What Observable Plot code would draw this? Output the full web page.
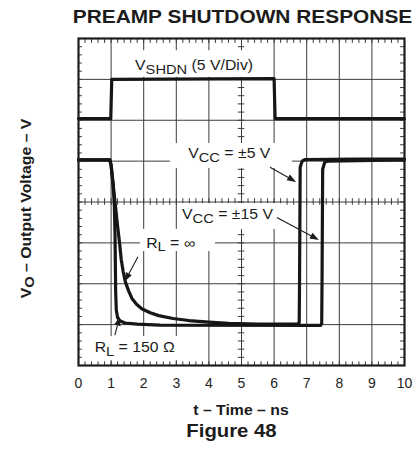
<!DOCTYPE html>
<html><head><meta charset="utf-8">
<script src="https://cdn.jsdelivr.net/npm/d3@7"></script>
<script src="https://cdn.jsdelivr.net/npm/@observablehq/plot@0.6"></script>
<style>body{margin:0;background:#fff} svg{display:block}</style>
</head><body><div id="chart"></div>
<script>
// ---- data (time in ns, vertical position in scope divisions) ----
const xTicks = [0, 1, 2, 3, 4, 5, 6, 7, 8, 9, 10];
const yDivs = [0, 1, 2, 3, 4, 5, 6, 7, 8];

const shdnT = [0, 0.99, 1.02, 6.0, 6.03, 10];
const shdnV = [6.04, 6.04, 7.0, 7.02, 6.04, 6.04];

// R_L = ∞ falling edge, VCC = ±5 V rising edge
const infT = [0, 0.96, 1.0, 1.06, 1.12, 1.2, 1.26, 1.31, 1.37, 1.44, 1.54, 1.64, 1.78, 1.94, 2.2, 2.46, 2.9, 3.38, 4.0, 4.6, 5.5, 6.72, 6.77, 6.78, 6.8, 6.86, 6.95, 8.5, 10];
const infV = [5.03, 5.03, 4.9, 4.45, 4.0, 3.4, 3.0, 2.6, 2.3, 2.04, 1.82, 1.64, 1.5, 1.39, 1.29, 1.22, 1.15, 1.1, 1.06, 1.03, 1.01, 1.01, 1.05, 2.0, 4.85, 5.0, 5.04, 5.05, 5.05];

// R_L = 150 Ω falling edge, VCC = ±15 V rising edge
const r150T = [0, 0.96, 1.0, 1.06, 1.1, 1.12, 1.13, 1.14, 1.16, 1.2, 1.28, 1.43, 1.8, 2.5, 7.42, 7.46, 7.47, 7.49, 7.55, 7.65, 10];
const r150V = [5.03, 5.03, 4.9, 4.45, 3.9, 3.2, 2.5, 1.8, 1.35, 1.17, 1.09, 1.04, 1.01, 0.99, 0.98, 1.02, 2.0, 4.8, 4.97, 5.0, 5.03];

const shdn = shdnT.map((t, i) => ({t, v: shdnV[i]}));
const rInf = infT.map((t, i) => ({t, v: infV[i]}));
const r150 = r150T.map((t, i) => ({t, v: r150V[i]}));

// white label backgrounds (data units)
const boxes = [
  {x1: 1.6, x2: 5.67, y1: 7.05, y2: 7.7},
  {x1: 2.82, x2: 6.56, y1: 4.82, y2: 5.43},
  {x1: 3.04, x2: 6.23, y1: 3.33, y2: 3.96},
  {x1: 1.9, x2: 4.2, y1: 2.79, y2: 3.33},
  {x1: 0.37, x2: 3.19, y1: 0.12, y2: 0.71}
];

const minorX = d3.range(0, 10.001, 0.2);
const minorY = d3.range(0, 8.001, 0.2);
const gridColor = "#3c3c3c";
const ink = "#161616";

const plot = Plot.plot({
  width: 416, height: 451,
  marginLeft: 78, marginRight: 12, marginTop: 38, marginBottom: 86,
  x: {domain: [0, 10]},
  y: {domain: [0, 8], axis: null},
  style: {fontFamily: "'Liberation Sans', Arial, sans-serif", background: "#fff", overflow: "visible", color: "#222"},
  marks: [
    Plot.gridX(xTicks, {stroke: gridColor, strokeOpacity: 1, strokeWidth: 1}),
    Plot.gridY(yDivs, {stroke: gridColor, strokeOpacity: 1, strokeWidth: 1}),
    Plot.ruleX(minorX, {x: d => d, y1: 8, y2: 7.88, stroke: gridColor}),
    Plot.ruleX(minorX, {x: d => d, y1: 0, y2: 0.09, stroke: gridColor}),
    Plot.ruleY(minorY, {y: d => d, x1: 0, x2: 0.12, stroke: gridColor}),
    Plot.ruleY(minorY, {y: d => d, x1: 9.88, x2: 10, stroke: gridColor}),
    Plot.ruleX(minorX, {x: d => d, y1: 3.92, y2: 4.08, stroke: gridColor}),
    Plot.ruleY(minorY, {y: d => d, x1: 4.9, x2: 5.1, stroke: gridColor}),
    Plot.rect(boxes, {x1: "x1", x2: "x2", y1: "y1", y2: "y2", fill: "white"}),
    Plot.line(shdn, {x: "t", y: "v", stroke: ink, strokeWidth: 3.2, strokeLinejoin: "round"}),
    Plot.line(rInf, {x: "t", y: "v", stroke: ink, strokeWidth: 3.2, strokeLinejoin: "round"}),
    Plot.line(r150, {x: "t", y: "v", stroke: ink, strokeWidth: 3.2, strokeLinejoin: "round"}),
    Plot.frame({stroke: "#1e1e1e", strokeWidth: 2.2}),
    Plot.axisX(xTicks, {tickSize: 0, tickPadding: 13, fontSize: 14, label: null, fill: "#222"})
  ]
});
document.getElementById("chart").appendChild(plot);

const xs = plot.scale("x"), ys = plot.scale("y");
const X = t => xs.apply(t), Y = v => ys.apply(v);
const svg = d3.select(plot);
const SX = 1.13;

function label(x, y, parts, {size = 14, weight = "normal", anchor = "start", rotate = 0, sx = SX} = {}) {
  const txt = svg.append("text")
    .attr("transform", `translate(${x},${y}) rotate(${rotate}) scale(${sx},1)`)
    .attr("text-anchor", anchor)
    .attr("font-family", "'Liberation Sans', Arial, sans-serif")
    .attr("font-size", size)
    .attr("font-weight", weight)
    .attr("fill", "#1c1c1c");
  let shift = 0;
  for (const p of parts) {
    const [s, sub] = p;
    const target = sub ? sub : 0;
    const ts = txt.append("tspan").text(s).attr("dy", target - shift);
    if (sub) ts.attr("font-size", size - 1);
    shift = target;
  }
  return txt;
}

function arrow(t0, v0, t1, v1) {
  const x0 = X(t0), y0 = Y(v0), x1 = X(t1), y1 = Y(v1);
  const a = Math.atan2(y1 - y0, x1 - x0), L = 9, W = 3.3;
  const bx = x1 - L * Math.cos(a), by = y1 - L * Math.sin(a);
  svg.append("line").attr("x1", x0).attr("y1", y0).attr("x2", bx).attr("y2", by)
    .attr("stroke", "#1c1c1c").attr("stroke-width", 1.1);
  const px = -Math.sin(a) * W, py = Math.cos(a) * W;
  svg.append("path").attr("d", `M${x1},${y1}L${bx + px},${by + py}L${bx - px},${by - py}Z`).attr("fill", "#1c1c1c");
}

// annotations
label(X(1.75), Y(7.21), [["V"], ["SHDN", 4], [" (5 V/Div)"]]);
label(X(3.38), Y(5.06), [["V"], ["CC", 4], [" = ±5 V"]]);
label(X(3.19), Y(3.56), [["V"], ["CC", 4], [" = ±15 V"]]);
label(X(2.09), Y(2.87), [["R"], ["L", 3.5], [" = ∞"]]);
label(X(0.51), Y(0.31), [["R"], ["L", 3.5], [" = 150 Ω"]]);
arrow(5.89, 4.84, 6.69, 4.48);
arrow(6.1, 3.61, 7.39, 3.06);
arrow(1.84, 2.65, 1.43, 2.04);
arrow(1.13, 0.73, 1.28, 1.18);

// titles
label(242.5, 23.3, [["PREAMP SHUTDOWN RESPONSE"]], {size: 18.5, weight: "bold", anchor: "middle"});
label(241, 415, [["t – Time – ns"]], {size: 14, weight: "bold", anchor: "middle"});
label(231.5, 437.3, [["Figure 48"]], {size: 18, weight: "bold", anchor: "middle"});
label(30.7, 208.5, [["V"], ["O", 3], [" – Output Voltage – V"]], {size: 14, weight: "bold", anchor: "middle", rotate: -90});
</script>
</body></html>
